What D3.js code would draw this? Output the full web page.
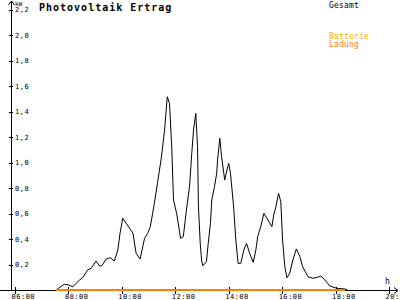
<!DOCTYPE html>
<html>
<head>
<meta charset="utf-8">
<script src="https://cdn.jsdelivr.net/npm/d3@7"></script>
<style>
  body { margin: 0; background: #fff; }
  svg { display: block; }
  text { font-family: "DejaVu Sans Mono", monospace; }
  .axis text { font-size: 7px; letter-spacing: 0.5px; fill: #000; }
  .axis line { stroke: #000; shape-rendering: crispEdges; }
</style>
</head>
<body>
<svg width="400" height="300"></svg>
<script>
// Photovoltaik Ertrag - Tagesverlauf

// Data
var zeit = ["07:32","07:51","08:00","08:10","08:25","08:32","08:43","08:51","09:02","09:10",
            "09:15","09:25","09:34","09:43","09:51","09:56","10:02","10:17","10:25","10:32",
            "10:41","10:51","10:58","11:04","11:13","11:20","11:29","11:36","11:42","11:47",
            "11:52","11:56","12:03","12:12","12:18","12:25","12:32","12:37","12:41","12:46",
            "12:50","12:52","12:56","12:59","13:02","13:10","13:14","13:19","13:22","13:28",
            "13:33","13:35","13:40","13:44","13:51","13:56","14:00","14:04","14:11","14:16",
            "14:21","14:27","14:34","14:40","14:47","14:55","15:01","15:05","15:12","15:19",
            "15:28","15:37","15:41","15:46","15:52","15:57","16:01","16:06","16:11","16:17",
            "16:24","16:32","16:40","16:46","16:58","17:09","17:20","17:27","17:36","17:47",
            "18:03","18:21","18:27"];
var gesamt = [0.00,0.045,0.04,0.026,0.078,0.096,0.157,0.170,0.227,0.188,
              0.191,0.243,0.253,0.227,0.314,0.447,0.562,0.486,0.445,0.288,
              0.243,0.405,0.445,0.497,0.680,0.837,1.046,1.255,1.516,1.464,
              1.124,0.706,0.601,0.405,0.418,0.627,0.810,1.072,1.255,1.385,
              1.124,0.653,0.366,0.235,0.190,0.222,0.366,0.523,0.706,0.810,
              0.915,1.020,1.190,1.046,0.863,0.941,0.994,0.915,0.653,0.392,
              0.209,0.209,0.314,0.366,0.288,0.217,0.314,0.418,0.497,0.601,
              0.549,0.497,0.588,0.653,0.758,0.693,0.392,0.183,0.096,0.131,
              0.235,0.322,0.261,0.183,0.104,0.092,0.100,0.110,0.078,0.031,
              0.013,0.008,0.00];
var ladungZeit = ["07:32","18:21"];
var ladung = [0, 0];
var xTicks = [6, 8, 10, 12, 14, 16, 18, 20];
var yTicks = [0.2, 0.4, 0.6, 0.8, 1.0, 1.2, 1.4, 1.6, 1.8, 2.0, 2.2];

function stunden(s) {
  var p = s.split(":");
  return +p[0] + p[1] / 60;
}

var svg = d3.select("svg");

// Scales
var x = d3.scaleLinear().domain([6, 20]).range([15, 389]),
    y = d3.scaleLinear().domain([0, 2.2]).range([290, 9.5]);

// Title
svg.append("text")
    .attr("x", 39).attr("y", 10.5)
    .attr("font-size", 10).attr("font-weight", "bold")
    .attr("letter-spacing", 1)
    .text("Photovoltaik Ertrag");

// y axis (ticks + labels)
svg.append("g")
    .attr("class", "axis")
    .attr("transform", "translate(9,0)")
    .call(d3.axisRight(y).tickValues(yTicks).tickSize(4).tickPadding(2)
      .tickFormat(function(d) { return d3.format(".1f")(d).replace(".", ","); }))
    .select(".domain").remove();

// x axis (ticks + labels)
var gx = svg.append("g")
    .attr("class", "axis")
    .attr("transform", "translate(0,287)")
    .call(d3.axisBottom(x).tickValues(xTicks).tickSize(7).tickPadding(0)
      .tickFormat(function(d) { return (d < 10 ? "0" : "") + d + ":00"; }));
gx.select(".domain").remove();
gx.selectAll("text").attr("text-anchor", "start").attr("dx", -4);

// axis lines with arrows
svg.append("path")
    .attr("d", "M11.5,291V1M8.5,5L11.5,1L14.5,5")
    .attr("fill", "none").attr("stroke", "#000");
svg.append("path")
    .attr("d", "M0,290.5H398M394,287.5L398,290.5L394,293.5")
    .attr("fill", "none").attr("stroke", "#000");

// unit labels
svg.append("text").attr("x", 15).attr("y", 6).attr("font-size", 6).text("kW");
svg.append("text").attr("x", 385).attr("y", 284).attr("font-size", 8).text("h");

// Gesamt line
var line = d3.line()
    .x(function(d) { return x(stunden(d[0])); })
    .y(function(d) { return y(d[1]); });

svg.append("path")
    .datum(d3.zip(zeit, gesamt))
    .attr("fill", "none")
    .attr("stroke", "#000")
    .attr("stroke-width", 1)
    .attr("d", line);

// Ladung line
svg.append("path")
    .datum(d3.zip(ladungZeit, ladung))
    .attr("fill", "none")
    .attr("stroke", "#ff8000")
    .attr("stroke-width", 2)
    .attr("d", line);

// Legend
var legend = [["Gesamt", "#000", 7.5], ["Batterie", "#ffb000", 38.5], ["Ladung", "#ff8000", 46.5]];
svg.selectAll(".legend")
    .data(legend)
    .enter().append("text")
    .attr("class", "legend")
    .attr("x", 329).attr("y", function(d) { return d[2]; })
    .attr("font-size", 8).attr("letter-spacing", 0.2)
    .attr("fill", function(d) { return d[1]; })
    .text(function(d) { return d[0]; });
</script>
</body>
</html>
